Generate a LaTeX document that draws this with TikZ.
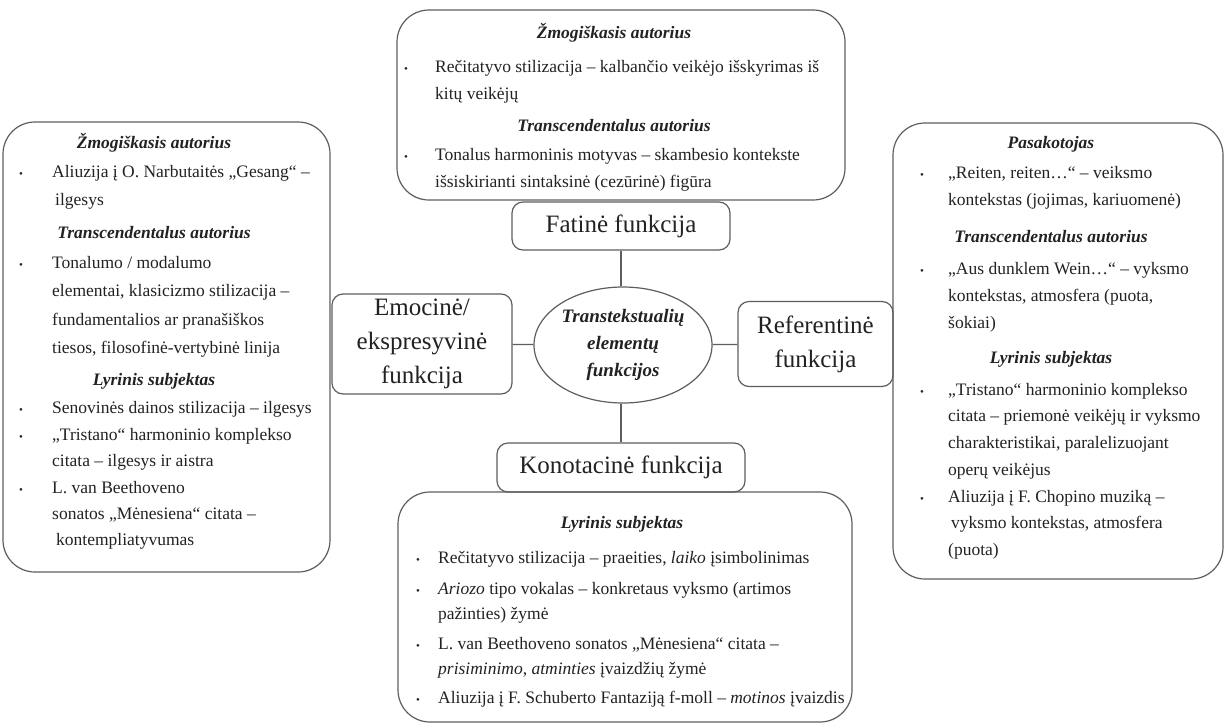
\documentclass[tikz,border=0pt]{standalone}
\usepackage{fontspec}
\setmainfont{Liberation Serif}
\usetikzlibrary{shapes.geometric}
\definecolor{lineg}{HTML}{5E5E5E}
\definecolor{ink}{HTML}{222222}
\newcommand{\txtfont}{\fontsize{17.5}{26}\selectfont}
\newcommand{\ttlfont}{\fontsize{17.5}{26}\selectfont\bfseries\itshape}
\newcommand{\funcfont}{\fontsize{25}{34}\selectfont}
\newcommand{\bulfont}{\fontsize{11}{11}\selectfont}
\newcommand{\ml}[2][26]{\vtop{\baselineskip=#1pt\lineskiplimit=-10pt\halign{##\hfil\cr#2\crcr}}}
\tikzset{
  bigbox/.style={draw=lineg, line width=1.2pt, rounded corners=32pt, inner sep=0pt},
  fnbox/.style={draw=lineg, line width=1.2pt, rounded corners=11pt, font=\funcfont, align=center, inner sep=0pt, text=ink},
  ttl/.style={font=\ttlfont, anchor=base, inner sep=0pt, text=ink},
  txt/.style={font=\txtfont, anchor=base west, inner sep=0pt, text=ink},
  bul/.style={font=\bulfont, anchor=base, inner sep=0pt, text=ink},
  conn/.style={draw=lineg, line width=1.2pt}
}
\begin{document}
\begin{tikzpicture}[x=1pt,y=-1pt]
\useasboundingbox[fill=white] (0,0) rectangle (1225,726);

% big boxes
\node[bigbox, minimum width=327pt, minimum height=450pt] (L) at (166.5,347) {};
\node[bigbox, minimum width=448pt, minimum height=190pt] (T) at (621,105) {};
\node[bigbox, minimum width=330pt, minimum height=456pt] (R) at (1058,351) {};
\node[bigbox, minimum width=454pt, minimum height=230pt] (B) at (625,607) {};

% function boxes
\node[fnbox, minimum width=218pt, minimum height=48pt] (fat) at (621,226) {Fatinė funkcija};
\node[fnbox, minimum width=180pt, minimum height=100pt] (emo) at (422,344) {Emocinė/\\ekspresyvinė\\funkcija};
\node[fnbox, minimum width=155pt, minimum height=85pt] (ref) at (815.5,344) {Referentinė\\funkcija};
\node[fnbox, minimum width=248pt, minimum height=49pt] (kon) at (621,467.5) {Konotacinė funkcija};
\node[draw=lineg, line width=1.2pt, ellipse, minimum width=178pt, minimum height=116pt, inner sep=0pt,
      font=\fontsize{19}{27}\selectfont\bfseries\itshape, align=center, text=ink] (ell) at (623,345)
      {Transtekstualių\\elementų\\funkcijos};

\draw[conn] (fat.south) -- (fat.south |- ell.north);
\draw[conn] (emo) -- (ell);
\draw[conn] (ell) -- (ref);
\draw[conn] (kon.north |- ell.south) -- (kon.north);

% left box
\node[ttl] (l1) at (154,148) {Žmogiškasis autorius};
\node[bul] (lb1) at (21,177) {•};
\node[txt] (lt1) at (52,177) {\ml[28]{Aliuzija į O. Narbutaitės „Gesang“ –\cr\hspace*{3pt}ilgesys}};
\node[ttl] (l2) at (154,238) {Transcendentalus autorius};
\node[bul] (lb2) at (21,268) {•};
\node[txt] (lt2) at (52,268) {\ml[28.5]{Tonalumo / modalumo\cr elementai, klasicizmo stilizacija –\cr fundamentalios ar pranašiškos\cr tiesos, filosofinė-vertybinė linija}};
\node[ttl] (l3) at (154,385) {Lyrinis subjektas};
\node[bul] (lb3) at (21,413) {•};
\node[txt] (lt3) at (52,413) {Senovinės dainos stilizacija – ilgesys};
\node[bul] (lb4) at (21,440) {•};
\node[txt] (lt4) at (52,440) {\ml{„Tristano“ harmoninio komplekso\cr citata – ilgesys ir aistra}};
\node[bul] (lb5) at (21,493) {•};
\node[txt] (lt5) at (52,493) {\ml{L. van Beethoveno\cr sonatos „Mėnesiena“ citata –\cr\hspace*{4pt}kontempliatyvumas}};

% top box
\node[ttl] (t1) at (614,38) {Žmogiškasis autorius};
\node[bul] (tb1) at (406,72) {•};
\node[txt] (tt1) at (435,72) {\ml[27]{Rečitatyvo stilizacija – kalbančio veikėjo išskyrimas iš\cr kitų veikėjų}};
\node[ttl] (t2) at (614,131) {Transcendentalus autorius};
\node[bul] (tb2) at (406,160) {•};
\node[txt] (tt2) at (435,160) {\ml[27]{Tonalus harmoninis motyvas – skambesio kontekste\cr išsiskirianti sintaksinė (cezūrinė) figūra}};

% right box
\node[ttl] (r1) at (1051,148) {Pasakotojas};
\node[bul] (rb1) at (922,178) {•};
\node[txt] (rt1) at (948,178) {\ml[27]{„Reiten, reiten…“ – veiksmo\cr kontekstas (jojimas, kariuomenė)}};
\node[ttl] (r2) at (1051,242) {Transcendentalus autorius};
\node[bul] (rb2) at (922,274) {•};
\node[txt] (rt2) at (948,274) {\ml[27]{„Aus dunklem Wein…“ – vyksmo\cr kontekstas, atmosfera (puota,\cr šokiai)}};
\node[ttl] (r3) at (1051,363) {Lyrinis subjektas};
\node[bul] (rb3) at (922,395) {•};
\node[txt] (rt3) at (948,395) {\ml[26.7]{„Tristano“ harmoninio komplekso\cr citata – priemonė veikėjų ir vyksmo\cr charakteristikai, paralelizuojant\cr operų veikėjus}};
\node[bul] (rb4) at (922,502) {•};
\node[txt] (rt4) at (948,502) {\ml[26.5]{Aliuzija į F. Chopino muziką –\cr\hspace*{3pt}vyksmo kontekstas, atmosfera\cr (puota)}};

% bottom box
\node[ttl] (b1) at (622,528) {Lyrinis subjektas};
\node[bul] (bb1) at (418,563) {•};
\node[txt] (bt1) at (438,563) {Rečitatyvo stilizacija – praeities, \textit{laiko} įsimbolinimas};
\node[bul] (bb2) at (418,594) {•};
\node[txt] (bt2) at (438,594) {\ml[25]{\textit{Ariozo} tipo vokalas – konkretaus vyksmo (artimos\cr pažinties) žymė}};
\node[bul] (bb3) at (418,649) {•};
\node[txt] (bt3) at (438,649) {\ml[25.5]{L. van Beethoveno sonatos „Mėnesiena“ citata –\cr\textit{prisiminimo}, \textit{atminties} įvaizdžių žymė}};
\node[bul] (bb4) at (418,703) {•};
\node[txt] (bt4) at (438,703) {Aliuzija į F. Schuberto Fantaziją f-moll – \textit{motinos} įvaizdis};
\end{tikzpicture}
\end{document}
